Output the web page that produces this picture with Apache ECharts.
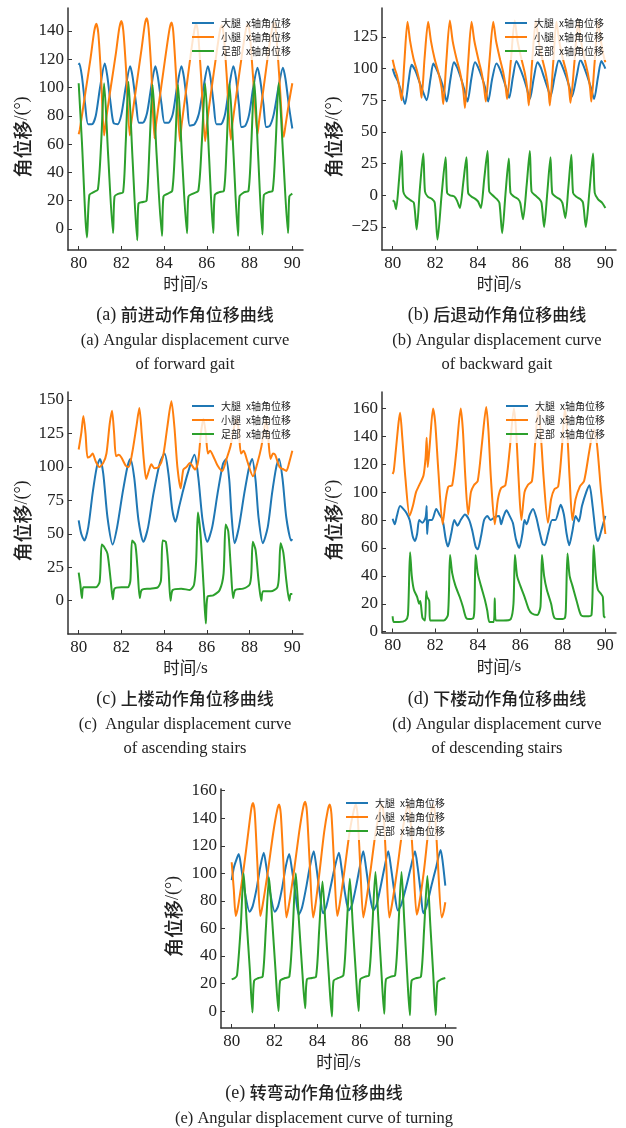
<!DOCTYPE html>
<html><head><meta charset="utf-8">
<script src="https://cdn.jsdelivr.net/npm/echarts@6/dist/echarts.min.js"></script>
<style>html,body{margin:0;padding:0;background:#fff}#c{width:626px;height:1128px}</style>
</head><body><div id="c"></div>
<script>
// ---------------- data ----------------
const seriesNames = ['大腿 x轴角位移', '小腿 x轴角位移', '足部 x轴角位移'];
const xTicks = [80, 82, 84, 86, 88, 90];
const aYTicks = [0, 20, 40, 60, 80, 100, 120, 140];
const bYTicks = [-25, 0, 25, 50, 75, 100, 125];
const cYTicks = [0, 25, 50, 75, 100, 125, 150];
const dYTicks = [0, 20, 40, 60, 80, 100, 120, 140, 160];
const eYTicks = [0, 20, 40, 60, 80, 100, 120, 140, 160];
const xLabel = '时间/s';
const yLabel = '角位移/(°)';
const captionsCN = ['(a) 前进动作角位移曲线', '(b) 后退动作角位移曲线', '(c) 上楼动作角位移曲线', '(d) 下楼动作角位移曲线', '(e) 转弯动作角位移曲线'];
const captionsEN = [
  ['(a) Angular displacement curve', 'of forward gait'],
  ['(b) Angular displacement curve', 'of backward gait'],
  ['(c)  Angular displacement curve', 'of ascending stairs'],
  ['(d) Angular displacement curve', 'of descending stairs'],
  ['(e) Angular displacement curve of turning']
];

// (a) forward gait
const aThigh = [[80.0,116],[80.03,117],[80.15,108],[80.3,88],[80.44,74],[80.62,74],[80.8,80],[81.0,100],[81.22,117],
[81.34,108],[81.5,88],[81.63,75],[81.82,74],[82.0,81],[82.2,100],[82.41,115],
[82.53,107],[82.69,88],[82.82,75],[83.0,75],[83.2,82],[83.4,101],[83.59,115],
[83.71,107],[83.88,88],[84.02,75],[84.2,75],[84.4,81],[84.6,100],[84.81,115],
[84.93,107],[85.08,88],[85.2,73],[85.42,74],[85.62,81],[85.84,100],[86.05,115],
[86.17,107],[86.32,88],[86.45,74],[86.65,74],[86.85,81],[87.04,100],[87.24,115],
[87.36,107],[87.5,88],[87.62,72],[87.8,73],[87.98,81],[88.17,100],[88.37,114],
[88.49,106],[88.65,88],[88.78,72],[88.95,73],[89.13,81],[89.35,100],[89.56,114],
[89.68,106],[89.85,86],[90.0,71]];
const aShank = [[80.0,67],[80.05,70],[80.3,95],[80.55,120],[80.73,140],[80.83,145],[80.92,138],[81.04,110],[81.19,66],
[81.27,76],[81.5,100],[81.75,125],[81.9,142],[82.0,147],[82.09,140],[82.22,112],[82.39,66],
[82.47,76],[82.7,101],[82.95,128],[83.1,145],[83.19,149],[83.27,142],[83.4,112],[83.55,64],
[83.63,75],[83.86,100],[84.08,124],[84.26,142],[84.35,146],[84.43,139],[84.56,108],[84.74,62],
[84.82,74],[85.02,97],[85.25,124],[85.42,141],[85.5,145],[85.59,138],[85.73,108],[85.92,62],
[86.0,74],[86.2,97],[86.45,124],[86.62,141],[86.7,144],[86.79,137],[86.93,108],[87.12,63],
[87.2,75],[87.42,99],[87.65,124],[87.83,141],[87.92,145],[88.01,138],[88.16,108],[88.37,67],
[88.45,77],[88.65,99],[88.88,125],[89.06,142],[89.15,146],[89.24,139],[89.38,110],[89.6,65],
[89.68,73],[89.85,90],[90.0,103]];
const aFoot = [[80.0,103],[80.15,62],[80.39,-6],[80.5,24],[80.7,26],[80.9,28],[81.05,60],[81.19,103],
[81.38,52],[81.61,-3],[81.68,23],[81.88,25],[82.08,26],[82.2,60],[82.33,104],
[82.52,50],[82.74,-8],[82.8,18],[83.0,19],[83.18,20],[83.32,60],[83.46,102],
[83.65,52],[83.9,-5],[83.97,23],[84.18,25],[84.38,27],[84.52,60],[84.65,102],
[84.84,50],[85.07,-3],[85.14,23],[85.35,25],[85.6,27],[85.76,60],[85.92,103],
[86.1,52],[86.3,-3],[86.37,24],[86.58,26],[86.8,27],[86.93,60],[87.06,103],
[87.25,52],[87.46,-5],[87.53,23],[87.75,26],[87.95,27],[88.08,60],[88.22,105],
[88.4,52],[88.6,-4],[88.67,24],[88.88,26],[89.08,27],[89.22,60],[89.36,103],
[89.57,52],[89.8,-3],[89.86,23],[90.0,25]];

// (b) backward gait
const bThigh = [[80.0,100],[80.1,95],[80.25,90],[80.4,82],[80.58,72],[80.75,90],[80.89,103],
[81.05,99],[81.25,90],[81.4,83],[81.6,75],[81.78,92],[81.91,104],
[82.05,100],[82.25,92],[82.4,84],[82.54,74],[82.72,92],[82.88,105],
[83.03,101],[83.2,93],[83.38,83],[83.52,74],[83.7,92],[83.87,105],
[84.02,101],[84.2,93],[84.35,85],[84.49,74],[84.68,92],[84.88,104],
[85.03,100],[85.2,92],[85.35,84],[85.48,77],[85.65,93],[85.82,106],
[85.97,101],[86.15,93],[86.3,85],[86.45,76],[86.63,92],[86.81,105],
[86.96,101],[87.12,93],[87.28,85],[87.42,78],[87.62,94],[87.82,107],
[87.97,102],[88.15,94],[88.3,86],[88.43,78],[88.65,94],[88.83,107],
[88.98,102],[89.15,94],[89.32,85],[89.47,76],[89.65,93],[89.81,106],
[89.92,103],[90.0,100]];
const bShank = [[80.0,107],[80.1,100],[80.2,95],[80.32,85],[80.42,75],[80.55,105],[80.7,137],
[80.82,122],[80.98,108],[81.15,98],[81.28,88],[81.36,77],[81.5,108],[81.67,137],
[81.8,122],[81.97,108],[82.15,97],[82.3,85],[82.38,72],[82.52,105],[82.69,138],
[82.82,122],[83.0,108],[83.17,97],[83.32,83],[83.4,69],[83.55,105],[83.71,137],
[83.84,122],[84.02,108],[84.18,97],[84.3,85],[84.38,74],[84.55,106],[84.73,137],
[84.86,122],[85.04,108],[85.2,97],[85.31,86],[85.38,76],[85.56,107],[85.74,138],
[85.87,122],[86.05,108],[86.22,96],[86.33,84],[86.4,71],[86.56,106],[86.73,138],
[86.86,122],[87.03,108],[87.2,96],[87.32,84],[87.39,71],[87.55,105],[87.7,137],
[87.83,122],[88.0,108],[88.17,97],[88.29,85],[88.36,73],[88.55,106],[88.72,137],
[88.85,122],[89.02,108],[89.18,96],[89.28,85],[89.34,74],[89.5,106],[89.66,137],
[89.79,122],[89.92,110],[90.0,105]];
const bFoot = [[80.0,-4],[80.08,-5],[80.16,-11],[80.3,12],[80.42,35],[80.5,3],[80.62,-1],[80.85,-4],[81.0,-6],[81.13,-27],
[81.28,5],[81.44,33],[81.52,3],[81.65,-1],[81.85,-3],[81.98,-6],[82.11,-35],
[82.3,0],[82.49,30],[82.56,2],[82.7,0],[82.9,-1],[83.02,-4],[83.16,-10],
[83.32,10],[83.47,30],[83.55,2],[83.7,-1],[83.9,-3],[84.02,-5],[84.15,-10],
[84.3,12],[84.46,35],[84.54,3],[84.7,0],[84.9,-3],[85.02,-6],[85.15,-30],
[85.3,0],[85.46,29],[85.54,2],[85.7,-1],[85.9,-3],[86.0,-6],[86.13,-19],
[86.3,8],[86.45,35],[86.53,3],[86.7,0],[86.9,-3],[87.0,-6],[87.12,-25],
[87.27,2],[87.42,30],[87.5,2],[87.65,-1],[87.85,-3],[87.98,-6],[88.12,-18],
[88.26,6],[88.4,32],[88.48,2],[88.62,-1],[88.82,-3],[88.95,-6],[89.08,-25],
[89.25,3],[89.42,33],[89.5,2],[89.65,-3],[89.85,-6],[90.0,-10]];

// (c) ascending stairs
const cThigh = [[80.0,60],[80.12,50],[80.27,45],[80.45,55],[80.65,80],[80.85,100],[81.0,106],[81.15,95],[81.35,62],[81.59,42],
[81.8,55],[82.05,80],[82.28,100],[82.42,106],[82.6,92],[82.8,60],[83.03,44],[83.25,55],[83.5,80],[83.8,103],[84.02,110],
[84.2,95],[84.38,68],[84.53,59],[84.7,70],[84.85,80],[85.1,95],[85.42,109],[85.6,92],[85.8,60],[86.02,44],[86.25,55],
[86.5,80],[86.75,102],[86.9,106],[87.05,90],[87.15,65],[87.3,43],[87.5,55],[87.75,80],[87.98,100],[88.12,106],[88.28,90],
[88.42,62],[88.62,43],[88.85,55],[89.05,80],[89.25,100],[89.38,106],[89.55,90],[89.72,62],[89.95,45],[90.0,46]];
const cShank = [[80.0,113],[80.12,125],[80.22,138],[80.32,125],[80.42,107],[80.55,108],[80.65,110],[80.8,104],[80.97,100],
[81.15,103],[81.3,110],[81.45,132],[81.56,142],[81.66,125],[81.75,108],[81.88,109],[82.0,107],[82.2,101],[82.34,100],
[82.5,110],[82.7,130],[82.84,144],[82.95,125],[83.05,105],[83.16,91],[83.3,98],[83.4,102],[83.55,99],[83.75,100],
[83.95,108],[84.15,130],[84.34,149],[84.48,130],[84.62,100],[84.77,84],[84.9,98],[85.05,100],[85.2,103],[85.45,98],
[85.6,105],[85.72,125],[85.84,136],[85.95,125],[86.05,110],[86.15,112],[86.3,108],[86.5,101],[86.72,97],[86.9,105],
[87.1,115],[87.28,130],[87.4,136],[87.5,125],[87.6,110],[87.72,112],[87.88,105],[88.16,93],[88.35,102],[88.55,115],
[88.7,130],[88.78,136],[88.88,120],[88.98,106],[89.1,110],[89.2,109],[89.4,100],[89.6,98],[89.72,97],[89.85,103],[90.0,112]];
const cFoot = [[80.0,21],[80.08,12],[80.15,2],[80.22,10],[80.5,10],[80.8,10],[80.98,14],[81.08,42],[81.2,40],[81.35,35],
[81.5,15],[81.6,1],[81.68,9],[82.0,10],[82.3,10],[82.42,15],[82.5,45],[82.65,42],[82.75,25],[82.86,2],[82.95,8],[83.3,9],
[83.7,10],[83.85,15],[83.93,45],[84.08,44],[84.2,25],[84.3,0],[84.4,8],[84.8,9],[85.2,8],[85.4,12],[85.5,30],[85.58,66],
[85.7,50],[85.85,10],[85.95,-17],[86.03,3],[86.3,4],[86.6,8],[86.78,20],[86.88,57],[87.0,52],[87.12,25],[87.23,2],[87.33,8],
[87.7,9],[88.0,12],[88.08,20],[88.15,44],[88.28,38],[88.42,15],[88.55,0],[88.63,7],[89.0,7],[89.3,10],[89.38,20],[89.45,43],
[89.58,36],[89.72,15],[89.86,0],[89.92,5],[90.0,5]];

// (d) descending stairs
const dThigh = [[80.0,81],[80.1,77],[80.2,83],[80.35,90],[80.5,88],[80.65,85],[80.8,80],[80.95,68],[81.05,65],[81.15,70],
[81.25,80],[81.4,78],[81.55,82],[81.6,90],[81.62,70],[81.7,80],[81.85,80],[82.05,88],[82.2,84],[82.35,80],[82.5,66],[82.6,61],
[82.75,70],[82.9,80],[83.05,76],[83.2,80],[83.4,84],[83.6,80],[83.75,72],[83.9,61],[84.0,59],[84.15,68],[84.3,80],[84.45,83],
[84.6,80],[84.8,82],[85.0,83],[85.1,77],[85.2,82],[85.35,87],[85.5,83],[85.65,78],[85.8,66],[85.95,60],[86.1,70],[86.2,80],
[86.3,77],[86.45,84],[86.6,88],[86.75,82],[86.9,72],[87.05,63],[87.15,62],[87.3,70],[87.5,80],[87.65,80],[87.9,91],[88.05,84],
[88.18,70],[88.3,62],[88.45,72],[88.6,83],[88.75,79],[88.9,90],[89.1,100],[89.25,105],[89.4,90],[89.55,70],[89.65,65],[89.8,72],[90.0,83]];
const dShank = [[80.0,113],[80.05,115],[80.15,130],[80.28,150],[80.35,157],[80.45,140],[80.6,110],[80.8,83],[80.95,90],[81.1,100],
[81.25,105],[81.45,112],[81.55,125],[81.6,139],[81.65,118],[81.75,135],[81.9,160],[82.0,150],[82.15,115],[82.35,77],[82.5,95],
[82.62,104],[82.8,105],[83.0,130],[83.2,160],[83.3,145],[83.42,110],[83.55,84],[83.68,100],[83.82,105],[84.0,108],[84.2,135],
[84.4,161],[84.5,145],[84.62,110],[84.8,77],[84.95,95],[85.1,103],[85.3,105],[85.5,130],[85.7,160],[85.8,145],[85.92,110],
[86.05,80],[86.2,100],[86.35,105],[86.55,108],[86.7,135],[86.85,160],[86.95,145],[87.1,110],[87.3,78],[87.45,95],[87.6,102],
[87.78,104],[87.95,130],[88.1,160],[88.2,145],[88.32,110],[88.45,80],[88.6,95],[88.8,104],[89.0,108],[89.25,130],[89.45,145],
[89.6,135],[89.8,100],[90.0,70]];
const dFoot = [[80.0,11],[80.05,7],[80.3,7],[80.6,8],[80.72,12],[80.82,57],[80.9,40],[81.0,30],[81.15,25],[81.25,20],[81.3,22],
[81.4,10],[81.52,8],[81.58,29],[81.62,25],[81.72,22],[81.76,8],[82.0,8],[82.4,8],[82.6,12],[82.7,55],[82.8,42],[82.95,33],
[83.15,25],[83.3,18],[83.45,10],[83.6,9],[83.8,10],[83.85,20],[83.9,55],[84.0,42],[84.15,33],[84.35,22],[84.45,15],[84.55,7],
[84.75,7],[84.8,24],[84.85,8],[85.2,8],[85.55,9],[85.68,20],[85.75,55],[85.85,40],[86.0,33],[86.2,25],[86.4,16],[86.55,13],
[86.8,12],[86.95,18],[87.02,55],[87.12,40],[87.25,30],[87.45,20],[87.6,10],[87.9,9],[88.1,10],[88.15,20],[88.22,56],[88.32,40],
[88.45,33],[88.65,22],[88.85,12],[89.1,11],[89.35,12],[89.45,62],[89.55,40],[89.65,30],[89.8,27],[89.88,25],[89.93,11],[90.0,10]];

// (e) turning
const eThigh = [[80.0,95],[80.1,104],[80.2,109],[80.33,114],[80.45,104],[80.62,86],[80.84,72],[80.98,76],[81.18,90],[81.33,104],
[81.5,115],[81.62,105],[81.8,86],[82.02,72],[82.17,76],[82.37,90],[82.52,104],[82.69,114],[82.81,104],[82.98,86],[83.14,70],
[83.29,75],[83.49,90],[83.65,104],[83.84,116],[83.96,105],[84.12,86],[84.28,71],[84.43,76],[84.63,90],[84.82,104],[85.02,115],
[85.14,104],[85.3,86],[85.48,73],[85.63,77],[85.83,91],[85.99,104],[86.16,116],[86.28,105],[86.45,86],[86.63,73],[86.78,77],
[86.98,91],[87.15,104],[87.33,116],[87.45,105],[87.62,86],[87.78,73],[87.93,77],[88.18,91],[88.38,104],[88.58,116],[88.7,105],
[88.85,86],[88.97,71],[89.12,76],[89.35,91],[89.58,105],[89.78,117],[89.88,108],[90.0,91]];
const eShank = [[80.0,108],[80.1,88],[80.19,69],[80.3,76],[80.55,102],[80.78,130],[80.92,147],[81.0,151],[81.08,144],[81.2,108],
[81.34,69],[81.45,77],[81.7,102],[81.95,130],[82.13,146],[82.22,150],[82.3,143],[82.42,108],[82.56,68],[82.68,77],[82.92,102],
[83.16,130],[83.35,148],[83.44,152],[83.52,145],[83.65,108],[83.81,68],[83.92,77],[84.12,102],[84.33,130],[84.5,146],[84.59,150],
[84.67,143],[84.79,108],[84.94,69],[85.05,77],[85.28,102],[85.52,130],[85.72,146],[85.81,150],[85.89,143],[86.01,108],[86.16,68],
[86.27,77],[86.5,102],[86.74,130],[86.94,146],[87.03,150],[87.11,143],[87.23,108],[87.38,68],[87.5,77],[87.74,102],[87.98,130],
[88.18,146],[88.27,150],[88.35,143],[88.5,108],[88.66,70],[88.77,77],[89.0,102],[89.2,130],[89.36,146],[89.44,150],[89.52,143],
[89.65,108],[89.83,68],[89.92,72],[90.0,79]];
const eFoot = [[80.0,23],[80.15,24],[80.25,26],[80.42,60],[80.56,100],[80.7,65],[80.85,30],[80.97,-1],[81.05,22],[81.25,24],
[81.45,25],[81.6,60],[81.75,97],[81.9,65],[82.05,30],[82.19,0],[82.27,22],[82.5,24],[82.7,25],[82.86,60],[83.0,100],[83.15,65],
[83.3,30],[83.44,2],[83.52,23],[83.75,24],[83.95,25],[84.1,60],[84.25,94],[84.4,60],[84.55,25],[84.69,-4],[84.77,22],[85.0,24],
[85.23,26],[85.38,60],[85.53,96],[85.67,62],[85.81,28],[85.94,0],[86.02,23],[86.25,25],[86.43,26],[86.58,60],[86.73,101],
[86.87,65],[87.01,28],[87.14,-2],[87.22,23],[87.45,25],[87.65,26],[87.8,60],[87.95,101],[88.08,65],[88.21,28],[88.34,-3],
[88.42,22],[88.65,24],[88.86,25],[89.01,60],[89.16,98],[89.3,62],[89.43,28],[89.55,-3],[89.63,21],[89.8,23],[90.0,24]];

// ---------------- layout / style ----------------
const colors = ['#1f77b4', '#ff7f0e', '#2ca02c'];
const SERIF = 'Liberation Serif';
const CJK = 'Noto Sans CJK SC';
const panels = [
  { grid: {left: 68, top: 8, width: 235, height: 242}, y: [-14.9, 156.2], ticks: aYTicks, data: [aThigh, aShank, aFoot], leg: [188, 14], gap: 36, cx: 185, capY: 315 },
  { grid: {left: 382, top: 8, width: 234, height: 242}, y: [-43.2, 147.9], ticks: bYTicks, data: [bThigh, bShank, bFoot], leg: [501, 14], gap: 39, cx: 497, capY: 315 },
  { grid: {left: 68, top: 392, width: 235, height: 242}, y: [-24.9, 156], ticks: cYTicks, data: [cThigh, cShank, cFoot], leg: [188, 397], gap: 36, cx: 185, capY: 699 },
  { grid: {left: 382, top: 392, width: 234, height: 240.5}, y: [-0.6, 171.8], ticks: dYTicks, data: [dThigh, dShank, dFoot], leg: [502, 397], gap: 39, cx: 497, capY: 699 },
  { grid: {left: 221, top: 789, width: 235, height: 239}, y: [-12.3, 161.2], ticks: eYTicks, data: [eThigh, eShank, eFoot], leg: [342, 794], gap: 38, cx: 314, capY: 1093 }
];

const fmtNum = v => (v < 0 ? '\u2212' + Math.abs(v) : String(v));
const [xl1, xl2] = xLabel.split('/');
const [yl1, yl2] = yLabel.split('/');

const option = {
  animation: false,
  backgroundColor: '#fff',
  grid: [], xAxis: [], yAxis: [], series: [], legend: [], title: []
};

panels.forEach((p, i) => {
  option.grid.push(Object.assign({containLabel: false}, p.grid));
  option.xAxis.push({
    type: 'value', gridIndex: i, min: 79.5, max: 90.5,
    axisLine: {show: true, onZero: false, lineStyle: {color: '#333', width: 1.5}},
    axisTick: {show: true, inside: true, length: 4, customValues: xTicks, lineStyle: {color: '#333', width: 1}},
    axisLabel: {show: true, customValues: xTicks, margin: 5, fontFamily: SERIF, fontSize: 17, color: '#222'},
    splitLine: {show: false},
    name: '{c|' + xl1 + '}{s|/' + xl2 + '}', nameLocation: 'middle', nameGap: 25,
    nameTextStyle: {rich: {c: {fontFamily: CJK, fontSize: 16.5, color: '#222'}, s: {fontFamily: SERIF, fontSize: 17.5, color: '#222'}}}
  });
  option.yAxis.push({
    type: 'value', gridIndex: i, min: p.y[0], max: p.y[1],
    axisLine: {show: true, onZero: false, lineStyle: {color: '#333', width: 1.5}},
    axisTick: {show: true, inside: true, length: 4, customValues: p.ticks, lineStyle: {color: '#333', width: 1}},
    axisLabel: {show: true, customValues: p.ticks, margin: 4, fontFamily: SERIF, fontSize: 17, color: '#222', formatter: fmtNum},
    splitLine: {show: false},
    name: '{c|' + yl1 + '}{s|/' + yl2 + '}', nameLocation: 'middle', nameGap: p.gap, nameRotate: 90,
    nameTextStyle: {padding: [0, 16, 0, 0], rich: {c: {fontFamily: CJK, fontSize: 19, fontWeight: 500, color: '#222'}, s: {fontFamily: SERIF, fontSize: 18, color: '#222'}}}
  });
  p.data.forEach((d, k) => {
    option.series.push({
      type: 'line', name: seriesNames[k], xAxisIndex: i, yAxisIndex: i, data: d,
      symbol: 'none', showSymbol: false, smooth: 0.25,
      lineStyle: {color: colors[k], width: 2}, itemStyle: {color: colors[k]}
    });
  });
  option.legend.push({
    orient: 'vertical', left: p.leg[0], top: p.leg[1], data: seriesNames,
    icon: 'rect', itemWidth: 22, itemHeight: 2, itemGap: 2,
    padding: [3, 4, 3, 4], backgroundColor: 'rgba(255,255,255,0.8)',
    formatter: n => n.replace(' ', '\u2002'),
    textStyle: {fontFamily: CJK, fontSize: 10, color: '#222', lineHeight: 12, padding: [0, 0, 0, 2]},
    selectedMode: false
  });
  const [tag, ...rest] = captionsCN[i].split(' ');
  option.title.push({
    text: '{p|' + tag + ' }{c|' + rest.join(' ') + '}', left: p.cx, top: p.capY - 11, textAlign: 'center', padding: 0,
    textStyle: {fontWeight: 'normal', rich: {
      p: {fontFamily: SERIF, fontSize: 18, fontWeight: 'normal', color: '#222', lineHeight: 22},
      c: {fontFamily: CJK, fontSize: 17, fontWeight: 500, color: '#222', lineHeight: 22}}}
  });
  captionsEN[i].forEach((t, j) => {
    option.title.push({
      text: t, left: p.cx, top: p.capY + 26 + j * 24 - 11, textAlign: 'center', padding: 0,
      textStyle: {fontFamily: SERIF, fontSize: 16.5, fontWeight: 'normal', color: '#222', lineHeight: 22}
    });
  });
});

const chart = echarts.init(document.getElementById('c'), null, {renderer: 'canvas'});
chart.setOption(option);
</script>
</body></html>
